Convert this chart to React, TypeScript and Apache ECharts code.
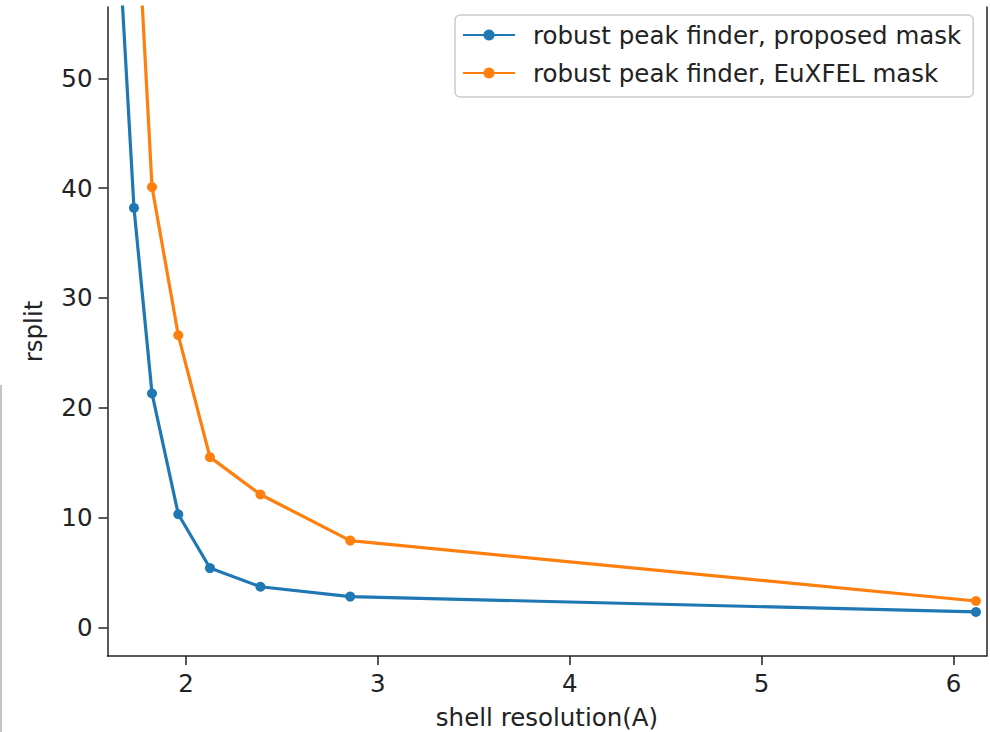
import React, { useEffect, useRef } from "react";
import * as echarts from "echarts";

const resolution = [1.66, 1.729, 1.823, 1.96, 2.125, 2.388, 2.856, 6.117];
const proposedMask = [59.5, 38.2, 21.3, 10.3, 5.4, 3.7, 2.8, 1.4];
const euxfelMask = [82.6, 70.8, 40.1, 26.6, 15.5, 12.1, 7.9, 2.4];
const xTicks = [2, 3, 4, 5, 6];
const yTicks = [0, 10, 20, 30, 40, 50];
const seriesNames = ["robust peak finder, proposed mask", "robust peak finder, EuXFEL mask"];

const FONT = "DejaVu Sans";
const INK = "#222222";
const FS = 24.5;

export default function App() {
  const ref = useRef<HTMLDivElement>(null);
  useEffect(() => {
    document.body.style.margin = "0";
    const chart = echarts.init(ref.current!, null, { renderer: "svg" });
    const toPairs = (ys: number[]) => resolution.map((x, i) => [x, ys[i]]);
    const axisLine = { show: true, lineStyle: { color: INK, width: 1.5 } };
    chart.setOption({
      animation: false,
      backgroundColor: "#ffffff",
      grid: { left: 107.5, right: 3.5, top: 7, bottom: 76, show: false, containLabel: false, outerBoundsMode: "none" },
      textStyle: { fontFamily: FONT },
      legend: {
        orient: "vertical",
        left: 455,
        top: 15,
        padding: [6, 12, 10, 7],
        itemGap: 10,
        itemWidth: 52,
        itemHeight: 14,
        backgroundColor: "rgba(255,255,255,0.8)",
        borderColor: "#cccccc",
        borderWidth: 1.5,
        borderRadius: 5,
        textStyle: { fontFamily: FONT, fontSize: FS, color: INK, lineHeight: 28, padding: [0, 0, 0, 13] },
        data: seriesNames,
      },
      xAxis: {
        type: "value",
        min: 1.591,
        max: 6.172,
        splitLine: { show: false },
        axisLine: { ...axisLine, onZero: false },
        axisTick: { show: true, length: 9, lineStyle: { color: INK, width: 1.5 }, customValues: xTicks },
        axisLabel: { customValues: xTicks, fontFamily: FONT, fontSize: FS, color: INK, margin: 15 },
        name: "shell resolution(A)",
        nameLocation: "middle",
        nameGap: 49,
        nameTextStyle: { fontFamily: FONT, fontSize: FS, color: INK },
      },
      yAxis: [
        {
          type: "value",
          min: -2.61,
          max: 56.5,
          splitLine: { show: false },
          axisLine: { ...axisLine, onZero: false },
          axisTick: { show: true, length: 9, lineStyle: { color: INK, width: 1.5 }, customValues: yTicks },
          axisLabel: { customValues: yTicks, fontFamily: FONT, fontSize: FS, color: INK, margin: 15 },
          name: "rsplit",
          nameLocation: "middle",
          nameGap: 62,
          nameTextStyle: { fontFamily: FONT, fontSize: FS, color: INK },
        },
        {
          type: "value",
          position: "right",
          min: -2.61,
          max: 56.5,
          splitLine: { show: false },
          axisLine: { ...axisLine, onZero: false },
          axisTick: { show: false },
          axisLabel: { show: false },
        },
      ],
      series: [
        {
          name: seriesNames[0],
          type: "line",
          data: toPairs(proposedMask),
          symbol: "circle",
          symbolSize: 10,
          showSymbol: true,
          clip: true,
          color: "#1f77b4",
          lineStyle: { width: 3.2, color: "#1f77b4" },
          itemStyle: { color: "#1f77b4" },
        },
        {
          name: seriesNames[1],
          type: "line",
          data: toPairs(euxfelMask),
          symbol: "circle",
          symbolSize: 10,
          showSymbol: true,
          clip: true,
          color: "#ff7f0e",
          lineStyle: { width: 3.2, color: "#ff7f0e" },
          itemStyle: { color: "#ff7f0e" },
        },
      ],
      graphic: [
        {
          type: "line",
          shape: { x1: 1, y1: 385, x2: 1, y2: 732 },
          style: { stroke: "#b0b0b0", lineWidth: 1.5 },
          silent: true,
        },
      ],
    });
    return () => chart.dispose();
  }, []);
  return (
    <div
      ref={ref}
      style={{ position: "fixed", left: 0, top: 0, width: 990, height: 732 }}
    />
  );
}
